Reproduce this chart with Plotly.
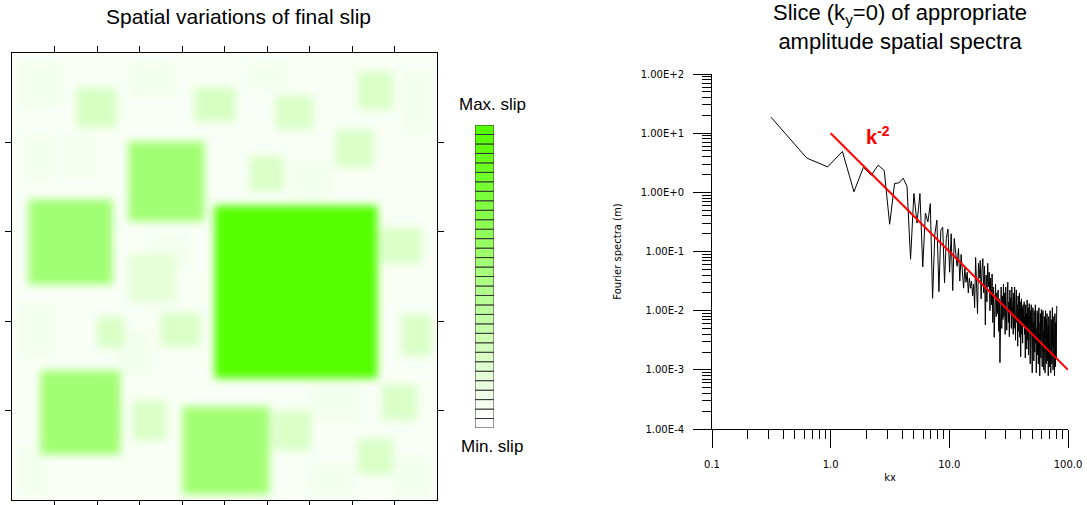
import numpy as np
import plotly.graph_objects as go

W, H = 1087, 505

# ---------------- Slip model (left panel) ----------------
# asperities: x0, x1, y0, y1 (grid units: x 0..10 along strike, y 0..5 from top), slip level 0..1
ASP_X0 = [4.75, 2.75, 0.39, 0.67, 4.00,
          1.53, 4.27, 6.20, 8.12, 7.60, 5.57, 8.70, 2.75, 1.96, 3.49, 9.14, 8.67, 2.82, 6.12, 8.12,
          0.20, 2.80, 5.50, 9.20, 0.30, 6.50, 0.20, 2.50, 7.00, 0.20, 7.00, 9.00, 1.20, 3.20, 5.80]
ASP_X1 = [8.59, 4.51, 2.35, 2.55, 6.04,
          2.43, 5.22, 7.06, 8.98, 8.50, 6.39, 9.60, 3.88, 2.63, 4.43, 9.84, 9.53, 3.65, 7.02, 8.98,
          1.20, 3.80, 6.50, 9.90, 1.00, 7.50, 1.00, 3.30, 8.20, 0.80, 8.00, 9.80, 2.00, 4.20, 6.60]
ASP_Y0 = [1.70, 0.99, 1.64, 3.54, 3.96,
          0.37, 0.37, 0.47, 0.20, 0.84, 1.14, 1.94, 2.24, 2.95, 2.91, 2.93, 3.71, 3.88, 3.99, 4.31,
          0.10, 0.10, 0.10, 0.20, 0.90, 1.20, 2.80, 3.10, 3.70, 4.40, 4.60, 4.50, 0.90, 2.00, 2.90]
ASP_Y1 = [3.64, 1.88, 2.59, 4.48, 4.93,
          0.82, 0.76, 0.84, 0.63, 1.27, 1.55, 2.35, 2.78, 3.30, 3.28, 3.40, 4.10, 4.33, 4.44, 4.70,
          0.60, 0.50, 0.40, 0.90, 1.40, 1.60, 3.40, 3.60, 4.10, 4.90, 4.95, 4.95, 1.40, 2.40, 3.40]
ASP_SLIP = [1.00, 0.55, 0.55, 0.55, 0.55,
            0.24, 0.24, 0.22, 0.22, 0.22, 0.22, 0.22, 0.15, 0.22, 0.22, 0.22, 0.22, 0.22, 0.22, 0.22,
            0.07, 0.07, 0.07, 0.07, 0.07, 0.07, 0.07, 0.07, 0.07, 0.07, 0.07, 0.07, 0.06, 0.06, 0.06]
BACKGROUND_SLIP = 0.035

# colour scale of the slip map and its legend
SLIP_SCALE = [[0.0, "#ffffff"], [1.0, "#55ff00"]]
N_LEVELS = 32

# ---------------- Spectrum (right panel) ----------------
KX_STEP = 0.31416  # wavenumber sampling
LOG_SPECTRUM = [
    1.27, 0.58, 0.43, 0.69, 0.01, 0.42, 0.29, 0.46, 0.37, -0.54,
    0.15, 0.16, 0.24, 0.10, -1.13, -0.02, -0.52, -0.02, -1.26, -0.35,
    -0.50, -0.19, -1.79, -0.72, -0.47, -1.68, -0.64, -0.59, -1.53, -0.78,
    -0.62, -1.35, -0.70, -1.66, -0.78, -1.10, -1.25, -0.95, -1.50, -1.05,
    -1.30, -1.62, -1.28, -1.52, -1.35, -1.70, -1.45, -1.62, -1.50, -1.75,
    -1.55, -1.95, -1.10, -1.60, -2.05, -1.20, -1.45, -1.15, -1.80, -1.30,
    -1.12, -1.70, -1.25, -2.24, -1.40, -1.85, -1.20, -1.60, -1.35, -2.00,
    -1.45, -1.90, -1.38, -2.20, -1.60, -2.45, -1.75, -1.55, -2.10, -1.70,
    -2.05, -1.65, -2.35, -1.80, -2.88, -1.95, -1.60, -2.30, -1.75, -2.15,
    -1.55, -2.10, -1.70, -2.40, -1.60, -1.95, -2.33, -1.75, -1.52, -2.20,
    -1.85, -2.44, -1.65, -2.00, -1.78, -2.30, -1.60, -2.15, -1.90, -2.40,
    -1.70, -2.30, -1.60, -2.05, -2.50, -1.80, -1.65, -2.20, -1.90, -2.60,
    -1.75, -2.35, -2.00, -1.70, -2.45, -1.85, -2.78, -2.10, -1.80, -2.40,
    -1.95, -2.55, -1.90, -2.25, -2.05,
    -1.85, -2.40, -2.10, -2.80, -1.90, -2.30, -2.05, -2.65, -1.82, -2.20,
    -2.50, -1.95, -2.75, -2.15, -1.88, -2.45, -2.25, -2.90, -2.00, -2.35,
    -1.90, -2.60, -2.10, -3.05, -2.30,
    -1.95, -2.50, -2.20, -2.85, -2.00, -2.40, -2.70, -2.10, -1.90, -2.55,
    -2.30, -3.05, -2.15, -2.45, -2.00, -2.75, -2.35, -2.05, -2.90, -2.25,
    -1.95, -2.60, -2.40, -3.10, -2.20, -2.50, -2.05, -2.80, -2.30, -1.98,
    -2.65, -2.45, -2.95, -2.15, -2.55, -2.00, -2.70, -2.35, -3.00, -2.25,
    -2.10, -2.60, -2.35, -3.05, -2.20, -2.00, -2.70, -2.45, -2.90, -2.15,
    -2.55, -2.05, -2.85, -2.40, -2.65, -2.25, -3.10, -2.50, -2.10, -2.75,
    -2.30, -2.95, -2.20, -2.60, -2.00, -2.80, -2.45, -3.05, -2.35, -2.15,
    -2.70, -2.50, -2.90, -2.25, -1.95, -2.60, -2.40, -3.00, -2.20, -2.75,
    -2.45, -2.10, -2.85, -2.30, -3.10, -2.55, -2.05, -2.70, -2.35, -2.95,
    -2.20, -2.50, -2.80, -2.30, -2.10, -1.92,
]
REF_KX = [1.0, 100.0]
REF_AMP = [10.0, 0.001]

X_TICKS = [0.1, 1.0, 10.0, 100.0]
X_TICKTEXT = ["0.1", "1.0", "10.0", "100.0"]
Y_TICKS = [1e-4, 1e-3, 1e-2, 1e-1, 1e0, 1e1, 1e2]
Y_TICKTEXT = ["1.00E-4", "1.00E-3", "1.00E-2", "1.00E-1", "1.00E+0", "1.00E+1", "1.00E+2"]

# ---------------- build slip grid ----------------
NX, NY = 212, 224
xc = (np.arange(NX) + 0.5) * 10.0 / NX
yc = (np.arange(NY) + 0.5) * 5.0 / NY
XX, YY = np.meshgrid(xc, yc)
slip = np.full((NY, NX), BACKGROUND_SLIP)
for x0, x1, y0, y1, s in zip(ASP_X0, ASP_X1, ASP_Y0, ASP_Y1, ASP_SLIP):
    m = (XX >= x0) & (XX <= x1) & (YY >= y0) & (YY <= y1)
    slip[m] = np.maximum(slip[m], s)


def box_blur(a, r, axis):
    pad = [(0, 0), (0, 0)]
    pad[axis] = (r, r)
    p = np.pad(a, pad, mode="edge")
    c = np.cumsum(p, axis=axis)
    c = np.concatenate([np.zeros_like(np.take(c, [0], axis=axis)), c], axis=axis)
    n = a.shape[axis]
    hi = np.take(c, np.arange(2 * r + 1, 2 * r + 1 + n), axis=axis)
    lo = np.take(c, np.arange(0, n), axis=axis)
    return (hi - lo) / (2 * r + 1)


for _ in range(2):
    slip = box_blur(slip, 2, 1)
    slip = box_blur(slip, 2, 0)

kx = [KX_STEP * (i + 1) for i in range(len(LOG_SPECTRUM))]
amp = [10 ** v for v in LOG_SPECTRUM]

fig = go.Figure()

fig.add_trace(go.Heatmap(
    z=slip, x0=xc[0], dx=10.0 / NX, y0=yc[0], dy=5.0 / NY,
    colorscale=SLIP_SCALE, zmin=0, zmax=1, showscale=False, zsmooth="best",
    xaxis="x", yaxis="y", hoverinfo="skip"))

levels = list(range(N_LEVELS))
fig.add_trace(go.Bar(
    x=[0] * N_LEVELS, y=[1] * N_LEVELS, base=levels, width=1.0,
    marker=dict(color=levels, colorscale=SLIP_SCALE, cmin=0, cmax=N_LEVELS - 1,
                line=dict(color="#333333", width=1)),
    xaxis="x3", yaxis="y3", hoverinfo="skip", showlegend=False))

fig.add_trace(go.Scatter(
    x=kx, y=amp, mode="lines", line=dict(color="black", width=1),
    xaxis="x2", yaxis="y2", showlegend=False))
fig.add_trace(go.Scatter(
    x=REF_KX, y=REF_AMP, mode="lines", line=dict(color="#ff0000", width=2),
    xaxis="x2", yaxis="y2", showlegend=False))

def px(x):
    return x / W

def py(y):
    return 1 - y / H

small = dict(family="DejaVu Sans", size=10, color="black")

fig.update_layout(
    width=W, height=H, margin=dict(l=0, r=0, t=0, b=0, pad=0), autosize=False,
    paper_bgcolor="white", plot_bgcolor="white", showlegend=False,
    xaxis=dict(domain=[px(12), px(437)], range=[0, 10], tickvals=list(range(1, 10)),
               showticklabels=False, ticks="outside", ticklen=6, tickcolor="black",
               showline=True, linecolor="black", linewidth=1, mirror="ticks",
               showgrid=False, zeroline=False, anchor="y", automargin=False),
    yaxis=dict(domain=[py(500), py(53)], range=[5, 0], tickvals=list(range(1, 5)),
               showticklabels=False, ticks="outside", ticklen=6, tickcolor="black",
               showline=True, linecolor="black", linewidth=1, mirror="ticks",
               showgrid=False, zeroline=False, anchor="x", automargin=False),
    xaxis3=dict(domain=[px(475), px(494)], range=[-0.5, 0.5], visible=False, anchor="y3",
                automargin=False),
    yaxis3=dict(domain=[py(428), py(125)], range=[0, N_LEVELS], visible=False, anchor="x3",
                automargin=False),
    xaxis2=dict(domain=[px(712), px(1068)], type="log", range=[-1, 2],
                tickvals=X_TICKS, ticktext=X_TICKTEXT, ticks="outside", ticklen=18,
                tickcolor="black", tickfont=small, showline=True, linecolor="black",
                showgrid=False, zeroline=False, anchor="y2", automargin=False,
                ticklabelstandoff=8,
                minor=dict(ticks="outside", ticklen=9, tickcolor="black",
                           tickvals=[m * d for d in (0.1, 1, 10) for m in range(2, 10)],
                           showgrid=False),
                title=dict(text="kx", font=small, standoff=4)),
    yaxis2=dict(domain=[py(429), py(74)], type="log", range=[-4, 2],
                tickvals=Y_TICKS, ticktext=Y_TICKTEXT, ticks="outside", ticklen=18,
                tickcolor="black", tickfont=small, showline=True, linecolor="black",
                showgrid=False, zeroline=False, anchor="x2", automargin=False,
                ticklabelstandoff=7,
                minor=dict(ticks="outside", ticklen=9, tickcolor="black",
                           tickvals=[m * d for d in (1e-4, 1e-3, 1e-2, 1e-1, 1, 10) for m in range(2, 10)],
                           showgrid=False),
                title=dict(text="Fourier spectra (m)", font=small, standoff=17)),
)

def note(text, x, y, size, family="Liberation Sans"):
    return dict(text=text, x=px(x), y=py(y), xref="paper", yref="paper", showarrow=False,
                xanchor="center", yanchor="middle",
                font=dict(family=family, size=size, color="black"))

annots = [
    note("Spatial variations of final slip", 238, 16, 21),
    note("Max. slip", 492, 105, 17),
    note("Min. slip", 492, 446, 17),
    note("Slice (k<sub>y</sub>=0) of appropriate<br>amplitude spatial spectra", 900, 27, 22),
    dict(text="<b>k<sup>-2</sup></b>", x=np.log10(1.9), y=np.log10(9.0), xref="x2", yref="y2",
         xanchor="left", yanchor="middle", showarrow=False,
         font=dict(family="Liberation Sans", size=20, color="#ff0000")),
]
fig.update_layout(annotations=annots)

fig.write_html("out.html", config={"displayModeBar": False},
               post_script="document.body.style.margin='0';document.body.style.overflow='hidden';")
